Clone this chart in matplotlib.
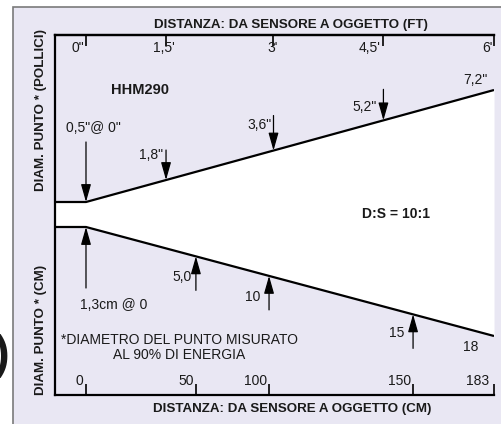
import numpy as np
import matplotlib
matplotlib.use("Agg")
import matplotlib.pyplot as plt
from matplotlib.patches import Rectangle, ArrowStyle

plt.rcParams['font.family'] = ['Liberation Sans', 'DejaVu Sans']

# ─────────────────────────────────────────────
# Dati (schema del cono ottico HHM290, D:S = 10:1)
# ─────────────────────────────────────────────

# posizioni delle tacche come appaiono nello schema (asse x in cm)
tick_ft_pos = [0, 35.9, 84.1, 133.4, 183]
tick_ft_lab = ['0"', "1,5'", "3'", "4,5'", "6'"]
tick_cm_pos = [0, 49.3, 82.1, 146.7, 183]
tick_cm_lab = ['0', '50', '100', '150', '183']

diam_pollici = ['0,5"@ 0"', '1,8"', '3,6"', '5,2"']
diam_pollici_fine = '7,2"'
diam_cm = ['1,3cm @ 0', '5,0', '10', '15']
diam_cm_fine = '18'

# profilo del cono (unità verticali schematiche)
cono_x = [-13.9, 0, 183]
cono_sup = [193, 193, 305]
cono_inf = [168, 168, 59]

# ─────────────────────────────────────────────
# Stile / layout
# ─────────────────────────────────────────────
LAV = "#E9E7F3"
BORDO = "#7a7a7a"
TXT = "#1a1a1a"

# (lunghezza freccia, dx, dy, ha) in pixel
lay_sup = [(60, 7, 74, 'center'), (30, -3, 25, 'right'),
           (35, -2, 26, 'right'), (31, -7, 13, 'right')]
lay_inf = [(61, -6, -78, 'left'), (34, -4, -21, 'right'),
           (34, -9, -21, 'right'), (34, -9, -19, 'right')]
off_ft = [-8, -2, -1, -14, -7]
off_cm = [-7, -10, -13, -14, -16]

fig = plt.figure(figsize=(5.02, 4.24), dpi=100)
fig.patches.append(Rectangle((13 / 502, -0.1), 1.0, 1.1 - 7.5 / 424,
                             transform=fig.transFigure, facecolor=LAV,
                             edgecolor=BORDO, linewidth=1.2, zorder=-10))

ax = fig.add_axes([55 / 502, 29 / 424, 439 / 502, 360 / 424])
ax.set_zorder(1)
ax.set_xlim(cono_x[0], cono_x[-1])
ax.set_ylim(0, 360)
ax.set_facecolor(LAV)
for s in ['left', 'top', 'bottom']:
    ax.spines[s].set_linewidth(1.6)
ax.spines['right'].set_visible(False)
ax.set_yticks([])

ax.fill_between(cono_x, cono_inf, cono_sup, color='white', lw=0)
ax.plot(cono_x, cono_sup, color='black', lw=1.6, solid_capstyle='butt')
ax.plot(cono_x, cono_inf, color='black', lw=1.6, solid_capstyle='butt')

# tacche
ax.set_xticks(tick_cm_pos, labels=[''] * len(tick_cm_pos))
ax.tick_params(axis='x', direction='in', length=8, width=1.2)
sec = ax.secondary_xaxis('top')
sec.set_xticks(tick_ft_pos, labels=[''] * len(tick_ft_pos))
sec.tick_params(axis='x', direction='in', length=8, width=1.2)
sec.spines['top'].set_linewidth(1.6)

for p, l, o in zip(tick_ft_pos, tick_ft_lab, off_ft):
    ax.annotate(l, xy=(p, 1), xycoords=('data', 'axes fraction'),
                xytext=(o, -13), textcoords='offset pixels',
                ha='center', va='center', fontsize=10, color=TXT)
for p, l, o in zip(tick_cm_pos, tick_cm_lab, off_cm):
    ax.annotate(l, xy=(p, 0), xycoords=('data', 'axes fraction'),
                xytext=(o, 14), textcoords='offset pixels',
                ha='center', va='center', fontsize=10, color=TXT)

# frecce con i diametri
stile = ArrowStyle('-|>', head_length=0.6, head_width=0.17)
ap = dict(arrowstyle=stile, mutation_scale=18, lw=0.9, color='black',
          shrinkA=0, shrinkB=0)

for x, lab, (L, dx, dy, ha) in zip(tick_ft_pos, diam_pollici, lay_sup):
    y = np.interp(x, cono_x, cono_sup)
    ax.annotate('', xy=(x, y), xytext=(x, y + L), arrowprops=ap)
    ax.annotate(lab, xy=(x, y), xytext=(dx, dy), textcoords='offset pixels',
                ha=ha, va='center', fontsize=10, color=TXT)

for x, lab, (L, dx, dy, ha) in zip(tick_cm_pos, diam_cm, lay_inf):
    y = np.interp(x, cono_x, cono_inf)
    ax.annotate('', xy=(x, y), xytext=(x, y - L), arrowprops=ap)
    ax.annotate(lab, xy=(x, y), xytext=(dx, dy), textcoords='offset pixels',
                ha=ha, va='center', fontsize=10, color=TXT)

ax.annotate(diam_pollici_fine, xy=(cono_x[-1], cono_sup[-1]), xytext=(-6, 10),
            textcoords='offset pixels', ha='right', va='center',
            fontsize=10, color=TXT)
ax.annotate(diam_cm_fine, xy=(cono_x[-1], cono_inf[-1]), xytext=(-16, -11),
            textcoords='offset pixels', ha='right', va='center',
            fontsize=10, color=TXT)

# testi
ax.text(0.127, 0.847, "HHM290", transform=ax.transAxes, ha='left', va='center',
        fontsize=10.5, fontweight='bold', color=TXT)
ax.text(0.776, 0.502, "D:S = 10:1", transform=ax.transAxes, ha='center',
        va='center', fontsize=10, fontweight='bold', color=TXT)
ax.text(0.283, 0.131, "*DIAMETRO DEL PUNTO MISURATO\nAL 90% DI ENERGIA",
        transform=ax.transAxes, ha='center', va='center', fontsize=10,
        linespacing=1.1, color=TXT)

fig.text(291 / 502, 1 - 25 / 424, "DISTANZA: DA SENSORE A OGGETTO (FT)",
         ha='center', va='center', fontsize=9.6, fontweight='bold', color=TXT)
fig.text(292 / 502, 1 - 409 / 424, "DISTANZA: DA SENSORE A OGGETTO (CM)",
         ha='center', va='center', fontsize=9.6, fontweight='bold', color=TXT)
fig.text(41 / 502, 1 - 110 / 424, "DIAM. PUNTO * (POLLICI)", rotation=90,
         ha='center', va='center', fontsize=9.6, fontweight='bold', color=TXT)
fig.text(41 / 502, 1 - 330 / 424, "DIAM. PUNTO * (CM)", rotation=90,
         ha='center', va='center', fontsize=9.6, fontweight='bold', color=TXT)

# carattere tagliato al bordo sinistro (come nell'originale ritagliato)
fig.text(-6 / 502, 1 - 356 / 424, ")", ha='left', va='center',
         fontsize=34, fontweight='bold', color=TXT)

fig.savefig("out.png", dpi=100)
plt.close(fig)
